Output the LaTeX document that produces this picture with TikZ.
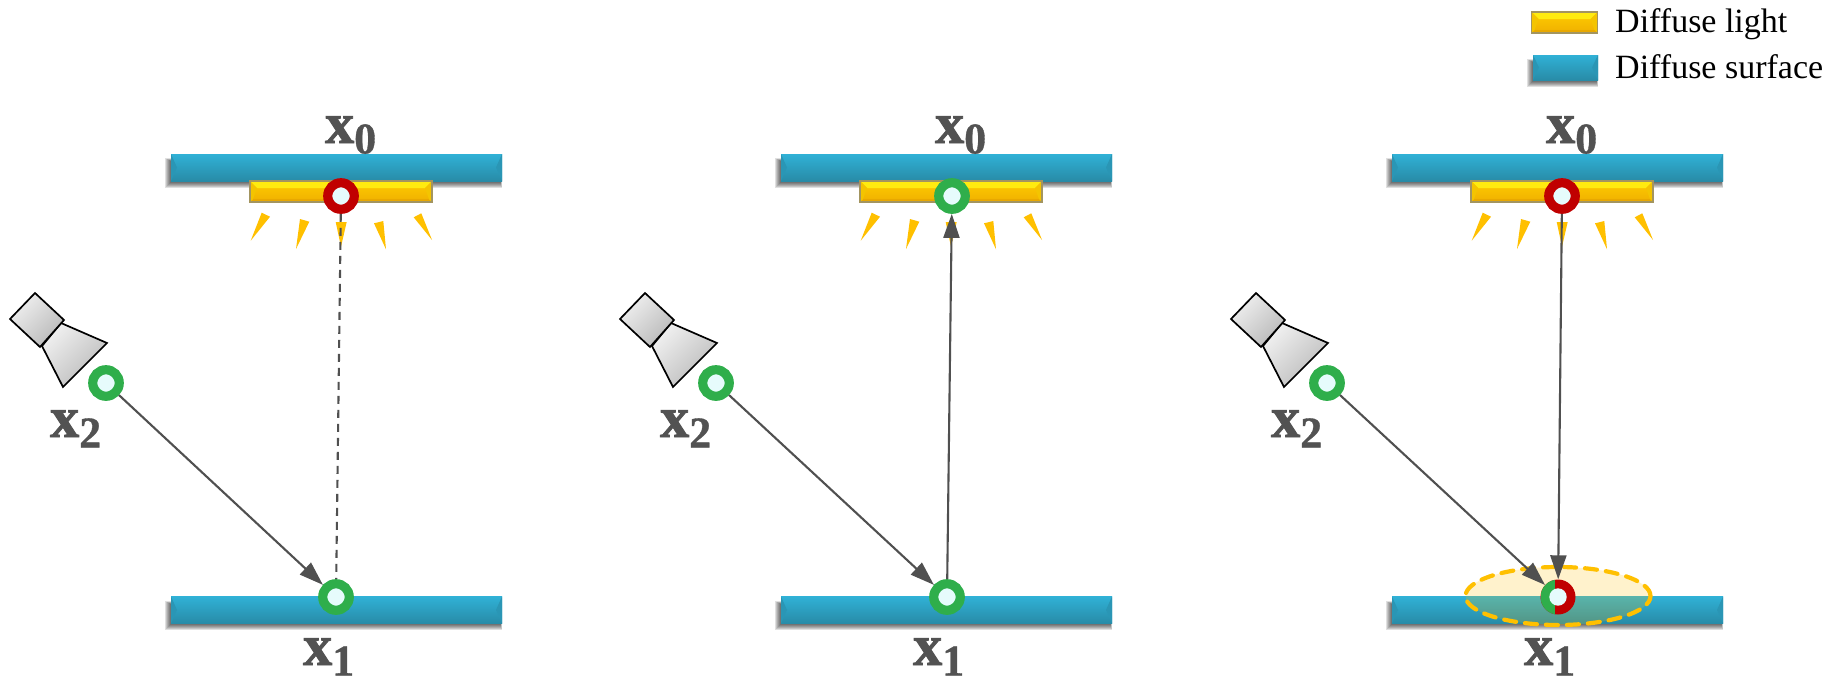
\documentclass[tikz,border=0pt]{standalone}
\usepackage{fontspec}
\setmainfont{Liberation Serif}
\newfontfamily\xfont[BoldFeatures={FakeBold=1.6}]{Liberation Serif}
\newfontfamily\xsubfont[FakeBold=0.8]{Liberation Serif}
\usetikzlibrary{arrows.meta,shapes.geometric}
\definecolor{ring}{HTML}{2FAE4B}
\definecolor{redring}{HTML}{C00000}
\definecolor{core}{HTML}{E6FBFC}
\definecolor{linegray}{HTML}{505050}
\definecolor{amber}{HTML}{FFC000}
\newcommand{\sidebevel}[1]{%
  \fill[#1] (path picture bounding box.north west) -- ([xshift=6pt]path picture bounding box.west) -- (path picture bounding box.south west) -- cycle;
  \fill[#1] (path picture bounding box.north east) -- ([xshift=-6pt]path picture bounding box.east) -- (path picture bounding box.south east) -- cycle;
}
\newcommand{\lampbevel}[3]{%
  \fill[#1] (path picture bounding box.north west) -- (path picture bounding box.north east) -- ([xshift=-7pt,yshift=-7pt]path picture bounding box.north east) -- ([xshift=7pt,yshift=-7pt]path picture bounding box.north west) -- cycle;
  \fill[#2] (path picture bounding box.south west) -- (path picture bounding box.south east) -- ([xshift=-3pt,yshift=3pt]path picture bounding box.south east) -- ([xshift=3pt,yshift=3pt]path picture bounding box.south west) -- cycle;
  \fill[#3] (path picture bounding box.north west) -- ([xshift=7pt,yshift=-7pt]path picture bounding box.north west) -- ([xshift=3pt,yshift=3pt]path picture bounding box.south west) -- (path picture bounding box.south west) -- cycle;
  \fill[#3] (path picture bounding box.north east) -- ([xshift=-7pt,yshift=-7pt]path picture bounding box.north east) -- ([xshift=-3pt,yshift=3pt]path picture bounding box.south east) -- (path picture bounding box.south east) -- cycle;
}
\newcommand{\softshadow}[4]{%
  \foreach \k in {0,1,2,3,4,5}{
    \fill[black,opacity=0.12] ({#1-6+\k},{#2+4+\k*0.5}) rectangle ({#3-\k*0.3},{#4+7-\k});
  }
}
\definecolor{ssurfT}{HTML}{30B1D6}
\definecolor{ssurfM}{HTML}{2FABCF}
\definecolor{ssurfB}{HTML}{288BA7}
\definecolor{ssurfSide}{HTML}{2A96B5}
\definecolor{lightT}{HTML}{FFCC00}
\definecolor{lightB}{HTML}{EFB000}
\definecolor{lightTop}{HTML}{FFEB10}
\definecolor{lightBot}{HTML}{E8A800}
\definecolor{lightSide}{HTML}{F4C400}
\definecolor{lightedge}{HTML}{A39560}
\tikzset{
  surfacebox/.style={rectangle,inner sep=0pt,minimum width=331pt,minimum height=27pt,
    top color=ssurfT,middle color=ssurfM,bottom color=ssurfB,draw=none,
    path picture={\sidebevel{ssurfSide}}},
  lightbox/.style={rectangle,inner sep=0pt,minimum width=182pt,minimum height=21pt,
    top color=lightT,bottom color=lightB,draw=lightedge,line width=1.2pt,
    path picture={\lampbevel{lightTop}{lightBot}{lightSide}}},
  dotgreen/.style={circle,inner sep=0pt,minimum size=26.5pt,fill=core,draw=ring,line width=9.2pt},
  dotred/.style={circle,inner sep=0pt,minimum size=26.5pt,fill=core,draw=redring,line width=9.2pt},
  dotsplit/.style={circle,inner sep=0pt,minimum size=35pt,fill=redring,
    path picture={\fill[ring] ([xshift=-17.5pt]path picture bounding box.south) rectangle ([xshift=-3pt]path picture bounding box.north);
      \fill[core] (path picture bounding box.center) circle (8.7pt);}},
  raytip/.style={fill=amber},
  camerapart/.style={draw=black,line width=1.7pt,line join=miter,left color=gray!12,right color=gray!55,shading angle=45},
  link/.style={draw=linegray,line width=2.1pt,-{Triangle[length=24pt,width=16pt]}},
  dashlink/.style={draw=linegray,line width=2.1pt,dash pattern=on 8pt off 6pt},
  halo/.style={ellipse,inner sep=0pt,minimum width=185pt,minimum height=58pt,fill=amber,fill opacity=0.2,draw=amber,draw opacity=1,line width=4.2pt,dash pattern=on 12pt off 9pt,line cap=round},
  mathlabel/.style={anchor=base west,inner sep=0pt,text=black!68,font=\fontsize{58}{60}\selectfont\xfont\bfseries},
  legendtext/.style={anchor=base west,inner sep=0pt,font=\fontsize{34}{36}\selectfont},
}
\newcommand{\subfig}[1]{\raisebox{-10.5pt}{\fontsize{44}{46}\selectfont\xsubfont #1}}
\begin{document}
\begin{tikzpicture}[x=1pt,y=-1pt]
\useasboundingbox (0,0) rectangle (1831,678);
\fill[white] (0,0) rectangle (1831,678);
% surfaces, lights, rays, cameras
\foreach \p/\dx in {a/0,b/610,c/1221}{
  \begin{scope}[xshift=\dx pt]
    \softshadow{171}{154}{502}{181}
    \softshadow{171}{597}{502}{623}
    \node[surfacebox] (up\p) at (336.5,167.5) {};
    \node[surfacebox] (dn\p) at (336.5,610) {};
    \node[lightbox] (lamp\p) at (341,191.5) {};
    \fill[raytip] (250.7,240.7) -- (261.7,212.7) -- (270,216.7) -- cycle;
    \fill[raytip] (296,249) -- (300,219) -- (309.3,221.7) -- cycle;
    \fill[raytip] (341,246.7) -- (335.7,222) -- (346.7,222) -- cycle;
    \fill[raytip] (386,249.3) -- (374,223.3) -- (383.3,221) -- cycle;
    \fill[raytip] (432,240) -- (413.7,217.3) -- (421.3,213.3) -- cycle;
    \draw[camerapart] (61,323) -- (107,343) -- (63,387) -- (42,346) -- cycle;
    \draw[camerapart] (35,293) -- (64,320) -- (40,347) -- (10,319) -- cycle;
    \node[mathlabel] (labz\p) at (325,143) {x\subfig{0}};
    \node[mathlabel] (labo\p) at (303,665) {x\subfig{1}};
    \node[mathlabel] (labt\p) at (50,437) {x\subfig{2}};
  \end{scope}
}
% highlight lobe
\node[halo] (lobe) at (1558,596) {};
% vertices
\node[dotred] (za) at (341,196) {};
\node[dotgreen] (zb) at (952,196) {};
\node[dotred] (zc) at (1562,196) {};
\node[dotgreen] (oa) at (336,597) {};
\node[dotgreen] (ob) at (947,597) {};
\node[dotsplit] (oc) at (1558,597) {};
\node[dotgreen] (ta) at (106,383) {};
\node[dotgreen] (tb) at (716,383) {};
\node[dotgreen] (tc) at (1327,383) {};
% connectors
\draw[dashlink] (za) -- (oa);
\draw[link] (ta) -- (oa);
\draw[link] (tb) -- (ob);
\draw[link] (ob) -- (zb);
\draw[link] (tc) -- (oc);
\draw[link] (zc) -- (oc);
% legend
\node[lightbox,minimum width=66pt,minimum height=21pt] (keylight) at (1564.5,22.5) {};
\softshadow{1533}{55}{1598}{80}
\node[surfacebox,minimum width=65pt,minimum height=25pt] (keysurface) at (1565.5,67.5) {};
\node[legendtext] (keylighttext) at (1615,32) {Diffuse light};
\node[legendtext] (keysurfacetext) at (1615,78) {Diffuse surface};
\end{tikzpicture}
\end{document}
